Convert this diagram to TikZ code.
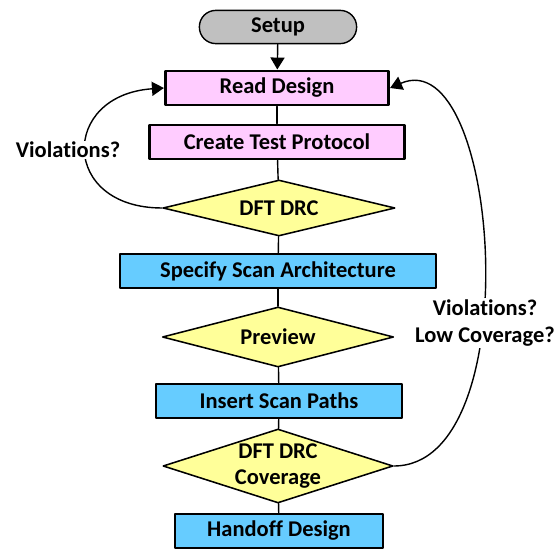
\documentclass[tikz,border=0pt]{standalone}
\usepackage{fontspec}
\setmainfont[Ligatures=NoCommon]{Carlito}
\usetikzlibrary{shapes.geometric,arrows.meta}

\definecolor{pinkbox}{HTML}{FFCCFF}
\definecolor{bluebox}{HTML}{66CCFF}
\definecolor{yellowbox}{HTML}{FFFF99}
\definecolor{greybox}{HTML}{C0C0C0}

\begin{document}
\begin{tikzpicture}[x=0.025cm,y=-0.025cm,line cap=round,line join=round,
  font=\fontsize{16}{18}\selectfont\bfseries,
  pinkstep/.style={draw,line width=2.1pt,fill=pinkbox,minimum height=0.85cm,inner sep=0pt},
  bluestep/.style={draw,line width=1.3pt,fill=bluebox,minimum height=0.83cm,inner sep=0pt},
  check/.style={draw,line width=1.1pt,fill=yellowbox,diamond,inner sep=0pt},
  checktext/.style={label={[align=center]center:#1}},
  link/.style={line width=1pt},
  loopback/.style={line width=1pt,-{Triangle[length=8.5pt,width=10pt]}}]
  \useasboundingbox (0,0) rectangle (560,551);
  % boxes of the flow
  \node[draw,line width=1pt,fill=greybox,rounded corners=0.41cm,minimum width=3.93cm,minimum height=0.83cm] (setup) at (278,27) {Setup};
  \node[pinkstep,minimum width=5.58cm] (read) at (277,88) {Read Design};
  \node[pinkstep,minimum width=6.38cm] (protocol) at (277,142) {Create Test Protocol};
  \node[check,minimum width=5.8cm,minimum height=1.4cm,checktext={DFT DRC}] (drc) at (279,208) {};
  \node[bluestep,minimum width=7.88cm] (spec) at (278,271) {Specify Scan Architecture};
  \node[check,minimum width=5.78cm,minimum height=1.5cm,checktext={Preview}] (preview) at (278,337) {};
  \node[bluestep,minimum width=6.15cm] (insert) at (279,401) {Insert Scan Paths};
  \node[check,minimum width=5.75cm,minimum height=1.85cm,checktext={DFT DRC\\[1pt]Coverage}] (drccov) at (278,466) {};
  \node[bluestep,minimum width=5.18cm] (handoff) at (279,531) {Handoff Design};
  % straight links
  \draw[loopback] (setup) -- (read);
  \draw[link] (read) -- (protocol);
  \draw[link] (protocol) -- (drc);
  \draw[link] (drc) -- (spec);
  \draw[link] (spec) -- (preview);
  \draw[link] (preview) -- (insert);
  \draw[link] (insert) -- (drccov);
  \draw[link] (drccov) -- (handoff);
  % loops back to Read Design
  \draw[loopback] (drc.west) .. controls (60,208) and (60,95) .. (read.west);
  \draw[loopback] (drccov.east) .. controls (530,466) and (500,40) .. (read.east);
  \node[fill=white,inner sep=1pt] (violA) at (68,150) {Violations?};
  \node[fill=white,inner sep=1pt,align=center] (violB) at (485,323) {Violations?\\[1pt]Low Coverage?};
\end{tikzpicture}
\end{document}
